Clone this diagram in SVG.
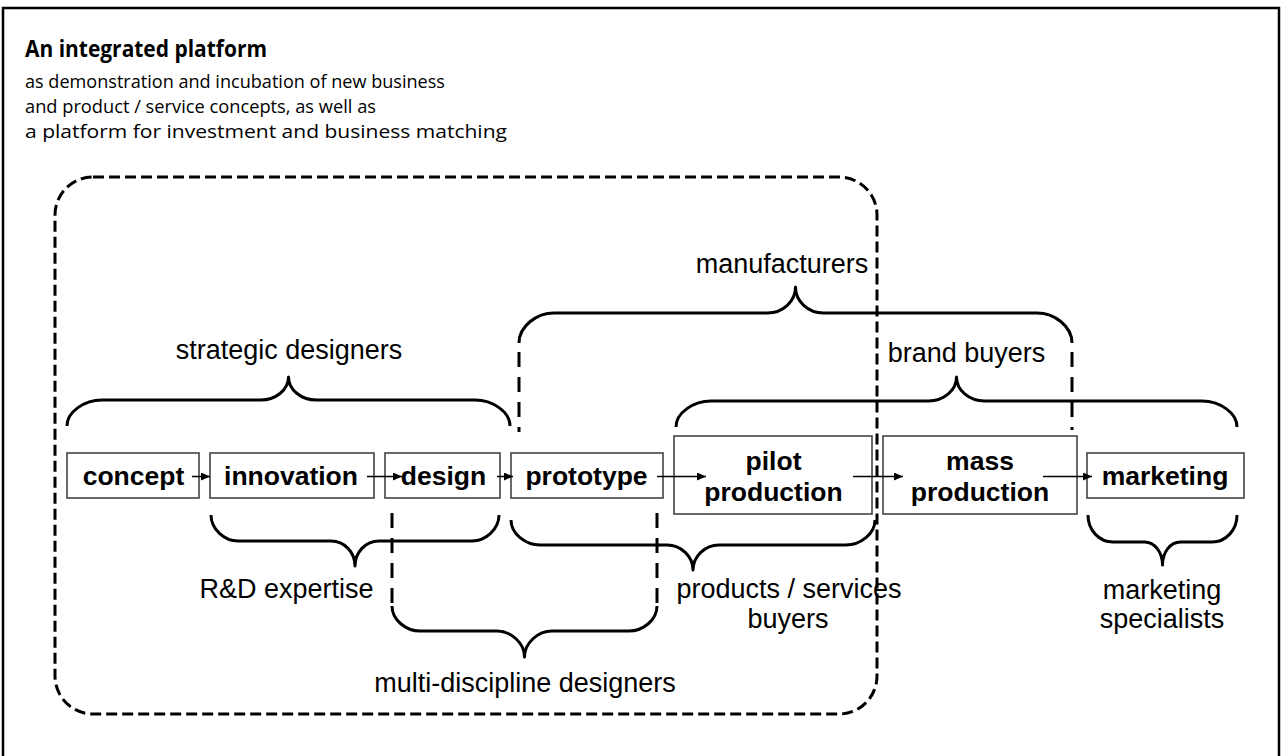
<svg xmlns="http://www.w3.org/2000/svg" width="1282" height="756" viewBox="0 0 1282 756">
<defs>
<style>
.frame{fill:none;stroke:#000;stroke-width:2.5}
.box{fill:#fff;stroke:#444;stroke-width:1.6}
.bt{font-family:"Liberation Sans",Arial,sans-serif;font-weight:bold;font-size:26.5px;fill:#000;text-anchor:middle}
.lt{font-family:"Liberation Sans",Arial,sans-serif;font-size:27px;fill:#000;text-anchor:middle}
.brace{fill:none;stroke:#000;stroke-width:3;stroke-linejoin:round}
.dash{fill:none;stroke:#000;stroke-width:3;stroke-dasharray:11,5}
.dl{fill:none;stroke:#000;stroke-width:3;stroke-dasharray:15,10}
.arr{fill:none;stroke:#000;stroke-width:1.5;marker-end:url(#ah)}
.title{font-family:"Open Sans","Noto Sans",sans-serif;font-weight:bold;font-size:22.5px;fill:#000}
.sub{font-family:"Open Sans","Noto Sans",sans-serif;font-size:18.5px;fill:#000}
</style>
<marker id="ah" markerUnits="userSpaceOnUse" markerWidth="9" markerHeight="8" refX="9" refY="4" orient="auto">
<path d="M0,0 L9,4 L0,8 z" fill="#000"/>
</marker>
</defs>
<rect width="1282" height="756" fill="#fff"/>
<rect class="frame" x="3" y="8" width="1276" height="770"/>
<g id="header">
<text class="title" x="25" y="57" textLength="242" lengthAdjust="spacingAndGlyphs">An integrated platform</text>
<text class="sub" x="25" y="88" textLength="420" lengthAdjust="spacingAndGlyphs">as demonstration and incubation of new business</text>
<text class="sub" x="25" y="113" textLength="351" lengthAdjust="spacingAndGlyphs">and product / service concepts, as well as</text>
<text class="sub" x="25" y="138" textLength="482" lengthAdjust="spacingAndGlyphs">a platform for investment and business matching</text>
</g>
<g id="platform-area">
<rect class="dash" x="55" y="177" width="822" height="537" rx="38" ry="38"/>
</g>
<g id="concept"><rect class="box" x="67" y="453" width="132" height="45"/><text class="bt" x="133.5" y="485">concept</text></g>
<g id="innovation"><rect class="box" x="210" y="453" width="164" height="45"/><text class="bt" x="291" y="485">innovation</text></g>
<g id="design"><rect class="box" x="385" y="453" width="115" height="45"/><text class="bt" x="443.5" y="485">design</text></g>
<g id="prototype"><rect class="box" x="511" y="453" width="152" height="45"/><text class="bt" x="586.5" y="485">prototype</text></g>
<g id="pilot-production"><rect class="box" x="674" y="436" width="198" height="78"/><text class="bt" x="773.5" y="470">pilot</text><text class="bt" x="773.5" y="501">production</text></g>
<g id="mass-production"><rect class="box" x="883" y="436" width="194" height="78"/><text class="bt" x="980" y="470">mass</text><text class="bt" x="980" y="501">production</text></g>
<g id="marketing"><rect class="box" x="1087" y="453" width="157" height="45"/><text class="bt" x="1165" y="485">marketing</text></g>
<g id="connectors">
<line class="arr" x1="192" y1="476.5" x2="210" y2="476.5"/>
<line class="arr" x1="367" y1="476.5" x2="402" y2="476.5"/>
<line class="arr" x1="497" y1="476.5" x2="513" y2="476.5"/>
<line class="arr" x1="657" y1="476.5" x2="706" y2="476.5"/>
<line class="arr" x1="853" y1="476.5" x2="903" y2="476.5"/>
<line class="arr" x1="1043" y1="476.5" x2="1092" y2="476.5"/>
</g>
<g id="strategic-designers">
<path class="brace" d="M67,426 C67,411.7 84.5,400 102,400 L260.5,400 C276,400 288.5,389.6 288.5,377 C288.5,389.6 301,400 316.5,400 L475,400 C492.5,400 510,411.7 510,426"/>
<text class="lt" x="289" y="359">strategic designers</text>
</g>
<g id="manufacturers">
<path class="brace" d="M519,343 C519,326.4 536.5,313 554,313 L767.5,313 C783,313 795.5,301.3 795.5,287 C795.5,301.3 808,313 823.5,313 L1037,313 C1054.5,313 1072,326.4 1072,343"/>
<line class="dl" x1="519" y1="352" x2="519" y2="432"/>
<line class="dl" x1="1072" y1="352" x2="1072" y2="430"/>
<text class="lt" x="782" y="273">manufacturers</text>
</g>
<g id="brand-buyers">
<path class="brace" d="M676,427 C676,412.7 693.5,401 711,401 L928.5,401 C944,401 956.5,390.2 956.5,377 C956.5,390.2 969,401 984.5,401 L1202,401 C1219.5,401 1237,412.7 1237,427"/>
<text class="lt" x="966.5" y="362">brand buyers</text>
</g>
<g id="rd-expertise">
<path class="brace" d="M211,515 C211,529.3 224.5,541 238,541 L331,541 C344.5,541 355,552.3 355,566 C355,552.3 365.5,541 379,541 L472,541 C485.5,541 499,529.3 499,515"/>
<text class="lt" x="286.5" y="598">R&amp;D expertise</text>
</g>
<g id="products-services-buyers">
<path class="brace" d="M511,520 C511,533.8 525.5,545 540,545 L667,545 C681,545 693,556.3 693,570 C693,556.3 705,545 719,545 L846,545 C860.5,545 875,533.8 875,520"/>
<text class="lt" x="789" y="598">products / services</text>
<text class="lt" x="788" y="628">buyers</text>
</g>
<g id="multi-discipline-designers">
<line class="dl" x1="392" y1="513" x2="392" y2="604"/>
<line class="dl" x1="657" y1="513" x2="657" y2="604"/>
<path class="brace" d="M392,606 C392,620 406,631 420,631 L497,631 C511,631 524.5,643 524.5,657 C524.5,643 538,631 552,631 L629,631 C643,631 657,620 657,606"/>
<text class="lt" x="525" y="692">multi-discipline designers</text>
</g>
<g id="marketing-specialists">
<path class="brace" d="M1088,515 C1088,530 1099,542 1113,542 L1144.5,542 C1154.5,542 1162.5,552 1162.5,565 C1162.5,552 1170.5,542 1180.5,542 L1212,542 C1226,542 1237,530 1237,515"/>
<text class="lt" x="1162" y="599">marketing</text>
<text class="lt" x="1162" y="628">specialists</text>
</g>
</svg>
